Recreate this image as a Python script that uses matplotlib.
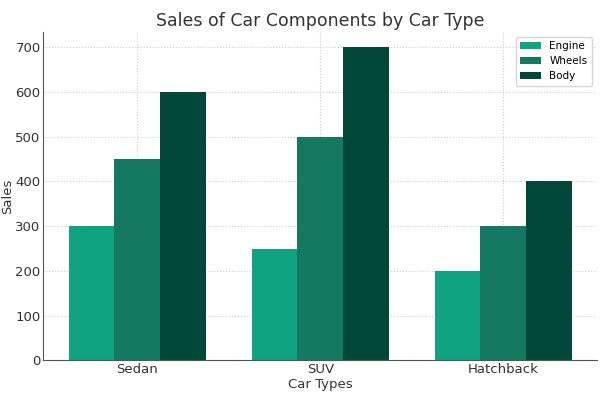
import numpy as np
import matplotlib.pyplot as plt

# data
car_types = ['Sedan', 'SUV', 'Hatchback']
engine = [300, 250, 200]
wheels = [450, 500, 300]
body = [600, 700, 400]

series = [('Engine', engine, '#10a37f'),
          ('Wheels', wheels, '#147960'),
          ('Body', body, '#02483a')]

x = np.arange(len(car_types))
width = 0.25

fig, ax = plt.subplots(figsize=(6.03, 3.96), dpi=100)
for i, (name, vals, col) in enumerate(series):
    ax.bar(x + (i - 1) * width, vals, width, label=name, color=col, zorder=2)

ax.set_title('Sales of Car Components by Car Type', fontsize=12.5, color='#333333', pad=4)
ax.set_xlabel('Car Types', fontsize=9.5, color='#333333', labelpad=1)
ax.set_ylabel('Sales', fontsize=9.5, color='#333333', labelpad=1)
ax.set_xticks(x)
ax.set_xticklabels(car_types)
ax.tick_params(labelsize=9.5, colors='#333333', length=0, pad=2)
ax.grid(True, linestyle=':', color='#cccccc', linewidth=0.8, zorder=0)
ax.set_axisbelow(True)
for s in ['top', 'right']:
    ax.spines[s].set_visible(False)
for s in ['left', 'bottom']:
    ax.spines[s].set_color('#555555')
ax.legend(fontsize=7.5, loc='upper right', bbox_to_anchor=(1.0, 1.0))

plt.subplots_adjust(left=0.072, right=0.99, top=0.92, bottom=0.09)
plt.savefig('out.png')
